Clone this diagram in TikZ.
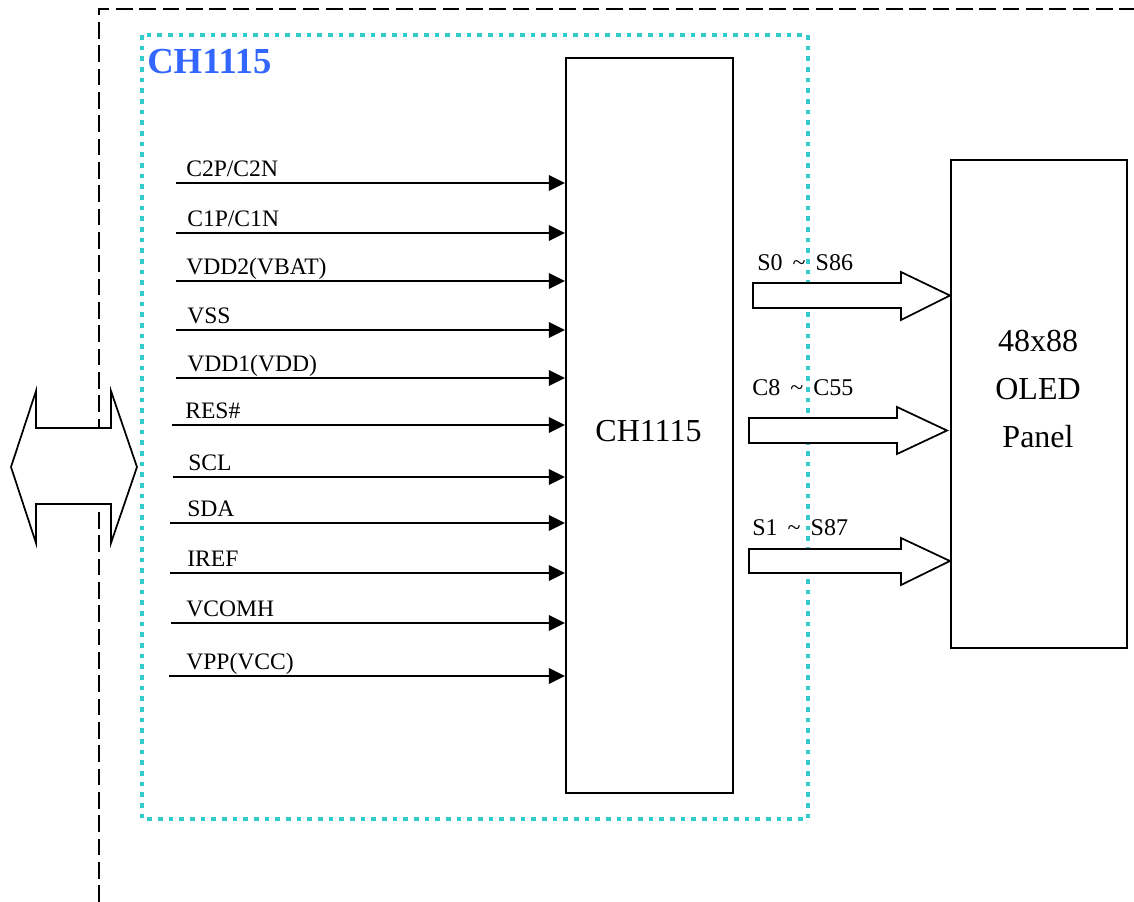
\documentclass[tikz,border=0pt]{standalone}
\usepackage{fontspec}
\setmainfont{Liberation Serif}
\usetikzlibrary{arrows.meta}
\definecolor{chipcyan}{RGB}{51,204,204}
\definecolor{chipblue}{RGB}{51,102,255}

\tikzset{
  pinline/.style={line width=1.5pt,-{Triangle[length=12pt,width=11.5pt]}},
  pinlabel/.style={anchor=base west,inner sep=0pt,font=\fontsize{17.7}{20}\selectfont},
  buslabel/.style={anchor=base west,inner sep=0pt,font=\fontsize{18}{20}\selectfont},
  blockbox/.style={draw,line width=1.6pt,fill=white,inner sep=0pt},
  fatarrow/.style={draw,line width=1.3pt,fill=white,line join=miter},
  bigtext/.style={font=\fontsize{24}{36}\selectfont,align=center,inner sep=0pt},
}
\newcommand{\bustilde}{\hspace{0.42em}\char`~\hspace{0.42em}}

\begin{document}
\begin{tikzpicture}[x=0.75pt,y=0.75pt,yscale=-1,xscale=1]
\useasboundingbox (0,0) rectangle (1134,902);

%Straight Lines: outer dashed border
\draw [line width=1.5pt] [dash pattern={on 12.5pt off 5pt}]  (99,902) -- (99,9) -- (1134,9) ;
%Shape: dotted chip border
\draw [color=chipcyan, line width=3.2pt] [dash pattern={on 3.4pt off 4.6pt}]  (142,35) rectangle (808,819) ;
\node [anchor=base west, inner sep=0pt, text=chipblue, font=\fontsize{27.5}{30}\selectfont\bfseries] (title) at (147,74) {CH1115};

%Shape: chip box
\node [blockbox, minimum width=125.25pt, minimum height=551.25pt] (chip) at (649.5,425.5) {};
\node [bigtext] (chiptext) at (648.5,431) {CH1115};

%Shape: panel box
\node [blockbox, minimum width=132pt, minimum height=366pt] (panel) at (1039,404) {};
\node [bigtext] (paneltext) at (1038,389) {48x88\\OLED\\Panel};

%Pins into the chip
\foreach \sx/\ly/\lx/\name [count=\i] in {176/183/186/{C2P/C2N}, 176/233/187/{C1P/C1N},
    176/281/186/{VDD2(VBAT)}, 176/330/187/{VSS}, 176/378/187/{VDD1(VDD)},
    172/425/185/{RES\#}, 173/477/188/{SCL}, 170/523/187/{SDA},
    170/573/187/{IREF}, 171/623/186/{VCOMH}, 169/676/186/{VPP(VCC)}}{
  \coordinate (pin\i) at (\sx,\ly);
  \draw [pinline] (pin\i) -- (pin\i -| chip.west);
  \node [pinlabel] (lbl\i) at (\lx,\ly-6.5) {\name};
}

%Shape: bus arrows to the panel
\draw [fatarrow] (753,283) -- (901,283) -- (901,272) -- (panel.west |- 0,295.5) -- (901,320) -- (901,308) -- (753,308) -- cycle ;
\draw [fatarrow] (749,418) -- (897,418) -- (897,407) -- (947,430.5) -- (897,454) -- (897,443) -- (749,443) -- cycle ;
\draw [fatarrow] (749,549) -- (901,549) -- (901,538) -- (panel.west |- 0,561) -- (901,585) -- (901,573) -- (749,573) -- cycle ;
\node [buslabel] (bus1) at (757,270) {S0\bustilde S86};
\node [buslabel] (bus2) at (752,395) {C8\bustilde C55};
\node [buslabel] (bus3) at (752,535) {S1\bustilde S87};

%Shape: host interface double arrow
\draw [fatarrow] (11,467) -- (36,391) -- (36,428) -- (111,428) -- (111,391) -- (137,467) -- (111,543) -- (111,504) -- (36,504) -- (36,543) -- cycle ;

\end{tikzpicture}
\end{document}
